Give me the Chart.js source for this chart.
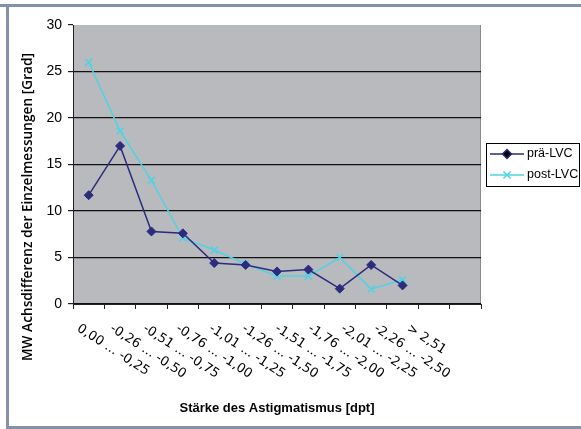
<!DOCTYPE html>
<html>
<head>
<meta charset="utf-8">
<script src="https://cdn.jsdelivr.net/npm/chart.js@4.4.0/dist/chart.umd.min.js"></script>
<style>
    html, body { margin: 0; padding: 0; background: #fff; }
    canvas { display: block; }
</style>
</head>
<body>
<canvas id="AstigmatismusChart" width="581" height="429"></canvas>
<script>
    // Werte
    var Categories = ['0,00 ... -0,25', '-0,26 ... -0,50', '-0,51 ... -0,75', '-0,76 ... -1,00',
        '-1,01 ... -1,25', '-1,26 ... -1,50', '-1,51 ... -1,75', '-1,76 ... -2,00',
        '-2,01 ... -2,25', '-2,26 ... -2,50', '> 2,51', '', ''];
    var PraeLVC = [11.7, 17.0, 7.8, 7.6, 4.4, 4.2, 3.5, 3.7, 1.65, 4.2, 2.0, null, null];
    var PostLVC = [26.0, 18.6, 13.3, 7.1, 5.8, 4.3, 3.0, 3.0, 5.0, 1.6, 2.6, null, null];
    var SeriesNames = ['prä-LVC', 'post-LVC'];
    var YTitle = 'MW Achsdifferenz der Einzelmessungen [Grad]';
    var XTitle = 'Stärke des Astigmatismus [dpt]';
    var YMin = 0, YMax = 30, YStep = 5;

    var FrameColor = '#8491a8';

    var ChartDecor = {
        id: 'chartDecor',
        beforeDraw: function (chart) {
            var ctx = chart.ctx, a = chart.chartArea;
            ctx.save();
            ctx.fillStyle = '#fff';
            ctx.fillRect(0, 0, chart.width, chart.height);
            // Rahmen
            ctx.fillStyle = FrameColor;
            ctx.fillRect(0, 4, chart.width, 3);
            ctx.fillRect(6, 4, 3, chart.height - 4);
            ctx.fillRect(6, 426, chart.width - 6, 3);
            // Plotflaeche
            ctx.fillStyle = '#b8babe';
            ctx.fillRect(a.left, a.top, a.right - a.left, a.bottom - a.top);
            ctx.strokeStyle = '#8a8a8a';
            ctx.lineWidth = 1;
            ctx.beginPath();
            ctx.moveTo(a.right - 0.5, a.top);
            ctx.lineTo(a.right - 0.5, a.bottom);
            ctx.stroke();
            ctx.restore();
        },
        afterDraw: function (chart) {
            var ctx = chart.ctx;
            var xs = chart.scales.x;
            ctx.save();
            // x-Achsenbeschriftung, schraeg (Excel verteilt sie etwas weiter als die Ticks)
            ctx.font = '13px "DejaVu Sans"';
            ctx.fillStyle = '#000';
            ctx.textAlign = 'left';
            ctx.textBaseline = 'top';
            Categories.forEach(function (lbl, i) {
                if (!lbl) return;
                var px = xs.getPixelForValue(i);
                ctx.save();
                ctx.translate(px - 7 + i * 1.6, 322);
                ctx.rotate(33 * Math.PI / 180);
                ctx.fillText(lbl, 0, 0);
                ctx.restore();
            });
            // y-Titel
            ctx.save();
            ctx.translate(28, 207);
            ctx.rotate(-Math.PI / 2);
            ctx.font = '600 13.7px "Open Sans"';
            ctx.textAlign = 'center';
            ctx.textBaseline = 'middle';
            ctx.fillText(YTitle, 0, 0);
            ctx.restore();
            // Legende
            ctx.strokeStyle = '#000';
            ctx.lineWidth = 1;
            ctx.strokeRect(486.5, 143.5, 93, 43);
            ctx.font = '12.5px "Liberation Sans"';
            ctx.textBaseline = 'middle';
            chart.data.datasets.forEach(function (ds, i) {
                var y = 154 + i * 21;
                ctx.strokeStyle = ds.borderColor;
                ctx.lineWidth = ds.borderWidth;
                ctx.beginPath();
                ctx.moveTo(490, y);
                ctx.lineTo(524, y);
                ctx.stroke();
                Chart.helpers.drawPoint(ctx, {
                    pointStyle: ds.pointStyle, radius: ds.pointRadius, borderWidth: ds.pointBorderWidth,
                    rotation: 0
                }, 507, y);
                ctx.fillStyle = '#000';
                ctx.fillText(ds.label, 527, y);
            });
            ctx.restore();
        }
    };

    PlotAstigmatismus();

    function PlotAstigmatismus() {
        var ctx = document.getElementById('AstigmatismusChart').getContext('2d');
        Chart.defaults.font.family = '"Liberation Sans", Arial, sans-serif';
        Chart.defaults.color = '#000';

        window.AstigChart = new Chart(ctx, {
            type: 'line',
            data: {
                labels: Categories,
                datasets: [{
                    label: SeriesNames[0],
                    data: PraeLVC,
                    borderColor: '#2d2b7e',
                    backgroundColor: '#2d2b7e',
                    borderWidth: 1.5,
                    pointStyle: 'rectRot',
                    pointRadius: 4.5,
                    pointBorderWidth: 1,
                    tension: 0
                }, {
                    label: SeriesNames[1],
                    data: PostLVC,
                    borderColor: '#4fd3e4',
                    backgroundColor: '#4fd3e4',
                    borderWidth: 1.5,
                    pointStyle: 'crossRot',
                    pointRadius: 5,
                    pointBorderWidth: 1.5,
                    tension: 0
                }]
            },
            options: {
                responsive: false,
                animation: false,
                layout: { padding: { top: 25, right: 100, bottom: 0, left: 0 } },
                plugins: {
                    legend: { display: false },
                    tooltip: { enabled: false }
                },
                scales: {
                    x: {
                        offset: true,
                        grid: { offset: true, drawOnChartArea: false, drawTicks: true, tickLength: 5, tickColor: '#222' },
                        border: { color: '#222', width: 1 },
                        ticks: { display: false, autoSkip: false },
                        title: {
                            display: true,
                            text: XTitle,
                            font: { size: 13, weight: 'bold' },
                            padding: { top: 0, bottom: 13 }
                        },
                        afterFit: function (scale) { scale.height = 125; }
                    },
                    y: {
                        min: YMin,
                        max: YMax,
                        ticks: { stepSize: YStep, padding: 6, font: { size: 14 } },
                        grid: {
                            color: function (c) { return c.tick && c.tick.value === YMax ? 'rgba(0,0,0,0)' : '#111'; },
                            lineWidth: 1.2,
                            tickLength: 5,
                            tickColor: '#222'
                        },
                        border: { color: '#222', width: 1 },
                        afterFit: function (scale) { scale.width = 73; }
                    }
                }
            },
            plugins: [ChartDecor]
        });
    }
</script>
</body>
</html>
